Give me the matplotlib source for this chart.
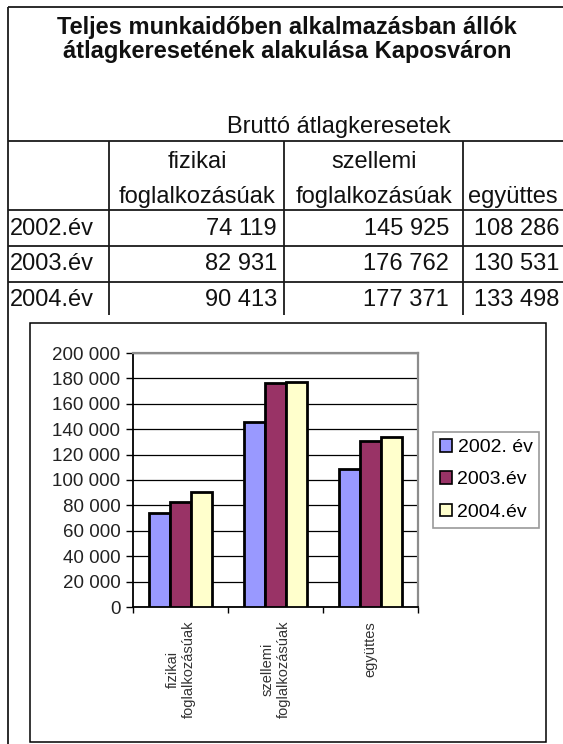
import matplotlib
matplotlib.use("Agg")
import matplotlib.pyplot as plt
import numpy as np
from matplotlib.patches import Rectangle

# ---------------- data ----------------
title_lines = ["Teljes munkaidőben alkalmazásban állók",
               "átlagkeresetének alakulása Kaposváron"]
subtitle = "Bruttó átlagkeresetek"
col_header_top = ["fizikai", "szellemi", ""]
col_header_bottom = ["foglalkozásúak", "foglalkozásúak", "együttes"]
categories = ["fizikai\nfoglalkozásúak", "szellemi\nfoglalkozásúak", "együttes"]
row_labels = ["2002.év", "2003.év", "2004.év"]
legend_labels = ["2002. év", "2003.év", "2004.év"]
fizikai = [74119, 82931, 90413]
szellemi = [145925, 176762, 177371]
egyuttes = [108286, 130531, 133498]
y_ticks = [0, 20000, 40000, 60000, 80000, 100000, 120000, 140000, 160000, 180000, 200000]
colors = ["#9999FF", "#993366", "#FFFFCC"]

plt.rcParams['font.family'] = ['Liberation Sans', 'DejaVu Sans']

W, H = 563, 744
fig = plt.figure(figsize=(W / 100, H / 100), dpi=100)
fig.patch.set_facecolor("white")

# background axes in pixel coordinates for the table
bg = fig.add_axes([0, 0, 1, 1])
bg.set_xlim(0, W)
bg.set_ylim(H, 0)
bg.axis("off")


def fmt(v):
    return f"{v:,.0f}".replace(",", " ")


lc = "#1a1a1a"
lw = 1.3


def hline(y, x0, x1):
    bg.plot([x0, x1], [y, y], color=lc, lw=lw, solid_capstyle="butt")


def vline(x, y0, y1):
    bg.plot([x, x], [y0, y1], color=lc, lw=lw, solid_capstyle="butt")


# table frame
hline(7, 8, W)
vline(8, 7, H)
for y in (141, 210, 246, 282):
    hline(y, 8, W)
for x in (109, 284, 463):
    vline(x, 141, 315)

tcol = "#111111"
bg.text(287, 34, title_lines[0], ha="center", va="baseline", fontsize=17,
        weight="bold", color=tcol)
bg.text(287, 58, title_lines[1], ha="center", va="baseline", fontsize=17,
        weight="bold", color=tcol)
bg.text(339, 133, subtitle, ha="center", va="baseline", fontsize=17, color=tcol)

col_centers = [197, 374, 513]
for c, top, bot in zip(col_centers, col_header_top, col_header_bottom):
    if top:
        bg.text(c, 168, top, ha="center", va="baseline", fontsize=17, color=tcol)
    bg.text(c, 203, bot, ha="center", va="baseline", fontsize=17, color=tcol)

row_base = [235, 270, 306]
right_edges = [277, 449, 559]
for i, yb in enumerate(row_base):
    bg.text(10, yb, row_labels[i], ha="left", va="baseline", fontsize=17, color=tcol)
    vals = [fizikai[i], szellemi[i], egyuttes[i]]
    for xr, v in zip(right_edges, vals):
        bg.text(xr, yb, fmt(v), ha="right", va="baseline", fontsize=17, color=tcol)

# chart frame
bg.add_patch(Rectangle((30, 323), 516, 419, fill=False, ec="black", lw=1.1))

# ---------------- bar chart ----------------
ax = fig.add_axes([133 / W, (H - 607) / H, 285 / W, 254 / H])
ax.set_zorder(2)

x = np.arange(len(categories))
bw = 0.22
for i in range(3):
    vals = [fizikai[i], szellemi[i], egyuttes[i]]
    ax.bar(x + (i - 1) * bw, vals, width=bw, color=colors[i], edgecolor="black",
           linewidth=2.0, label=legend_labels[i], zorder=3)

ax.set_xlim(-0.5, 2.5)
ax.set_ylim(0, 200000)
ax.set_yticks(y_ticks)
ax.set_yticklabels([fmt(v) for v in y_ticks], fontsize=13.5, color="#222222")
ax.yaxis.grid(True, color="black", lw=0.9)
ax.set_axisbelow(True)

for s in ("left", "bottom"):
    ax.spines[s].set_color("black")
    ax.spines[s].set_linewidth(1.3)
for s in ("top", "right"):
    ax.spines[s].set_color("#8c8c8c")
    ax.spines[s].set_linewidth(1.6)

ax.tick_params(axis="y", length=5, width=1, pad=4)
ax.set_xticks([-0.5, 0.5, 1.5, 2.5])
ax.set_xticklabels([])
ax.tick_params(axis="x", which="major", length=4, width=1)
ax.set_xticks(x, minor=True)
ax.set_xticklabels(categories, minor=True, rotation=90, fontsize=10.5,
                   color="#333333")
ax.tick_params(axis="x", which="minor", length=0, pad=10)
for t in ax.get_xticklabels(minor=True):
    t.set_multialignment("center")

leg = ax.legend(loc="upper left", bbox_to_anchor=(433 / W, 1 - 432 / H),
                bbox_transform=fig.transFigure, borderaxespad=0, fontsize=14,
                frameon=True, fancybox=False, edgecolor="#808080",
                handlelength=0.62, handleheight=0.62, handletextpad=0.28,
                labelspacing=0.78, borderpad=0.36)
leg.get_frame().set_linewidth(1.2)
for h in leg.legend_handles:
    h.set_linewidth(1.2)

fig.savefig("out.png", dpi=100, facecolor="white")
